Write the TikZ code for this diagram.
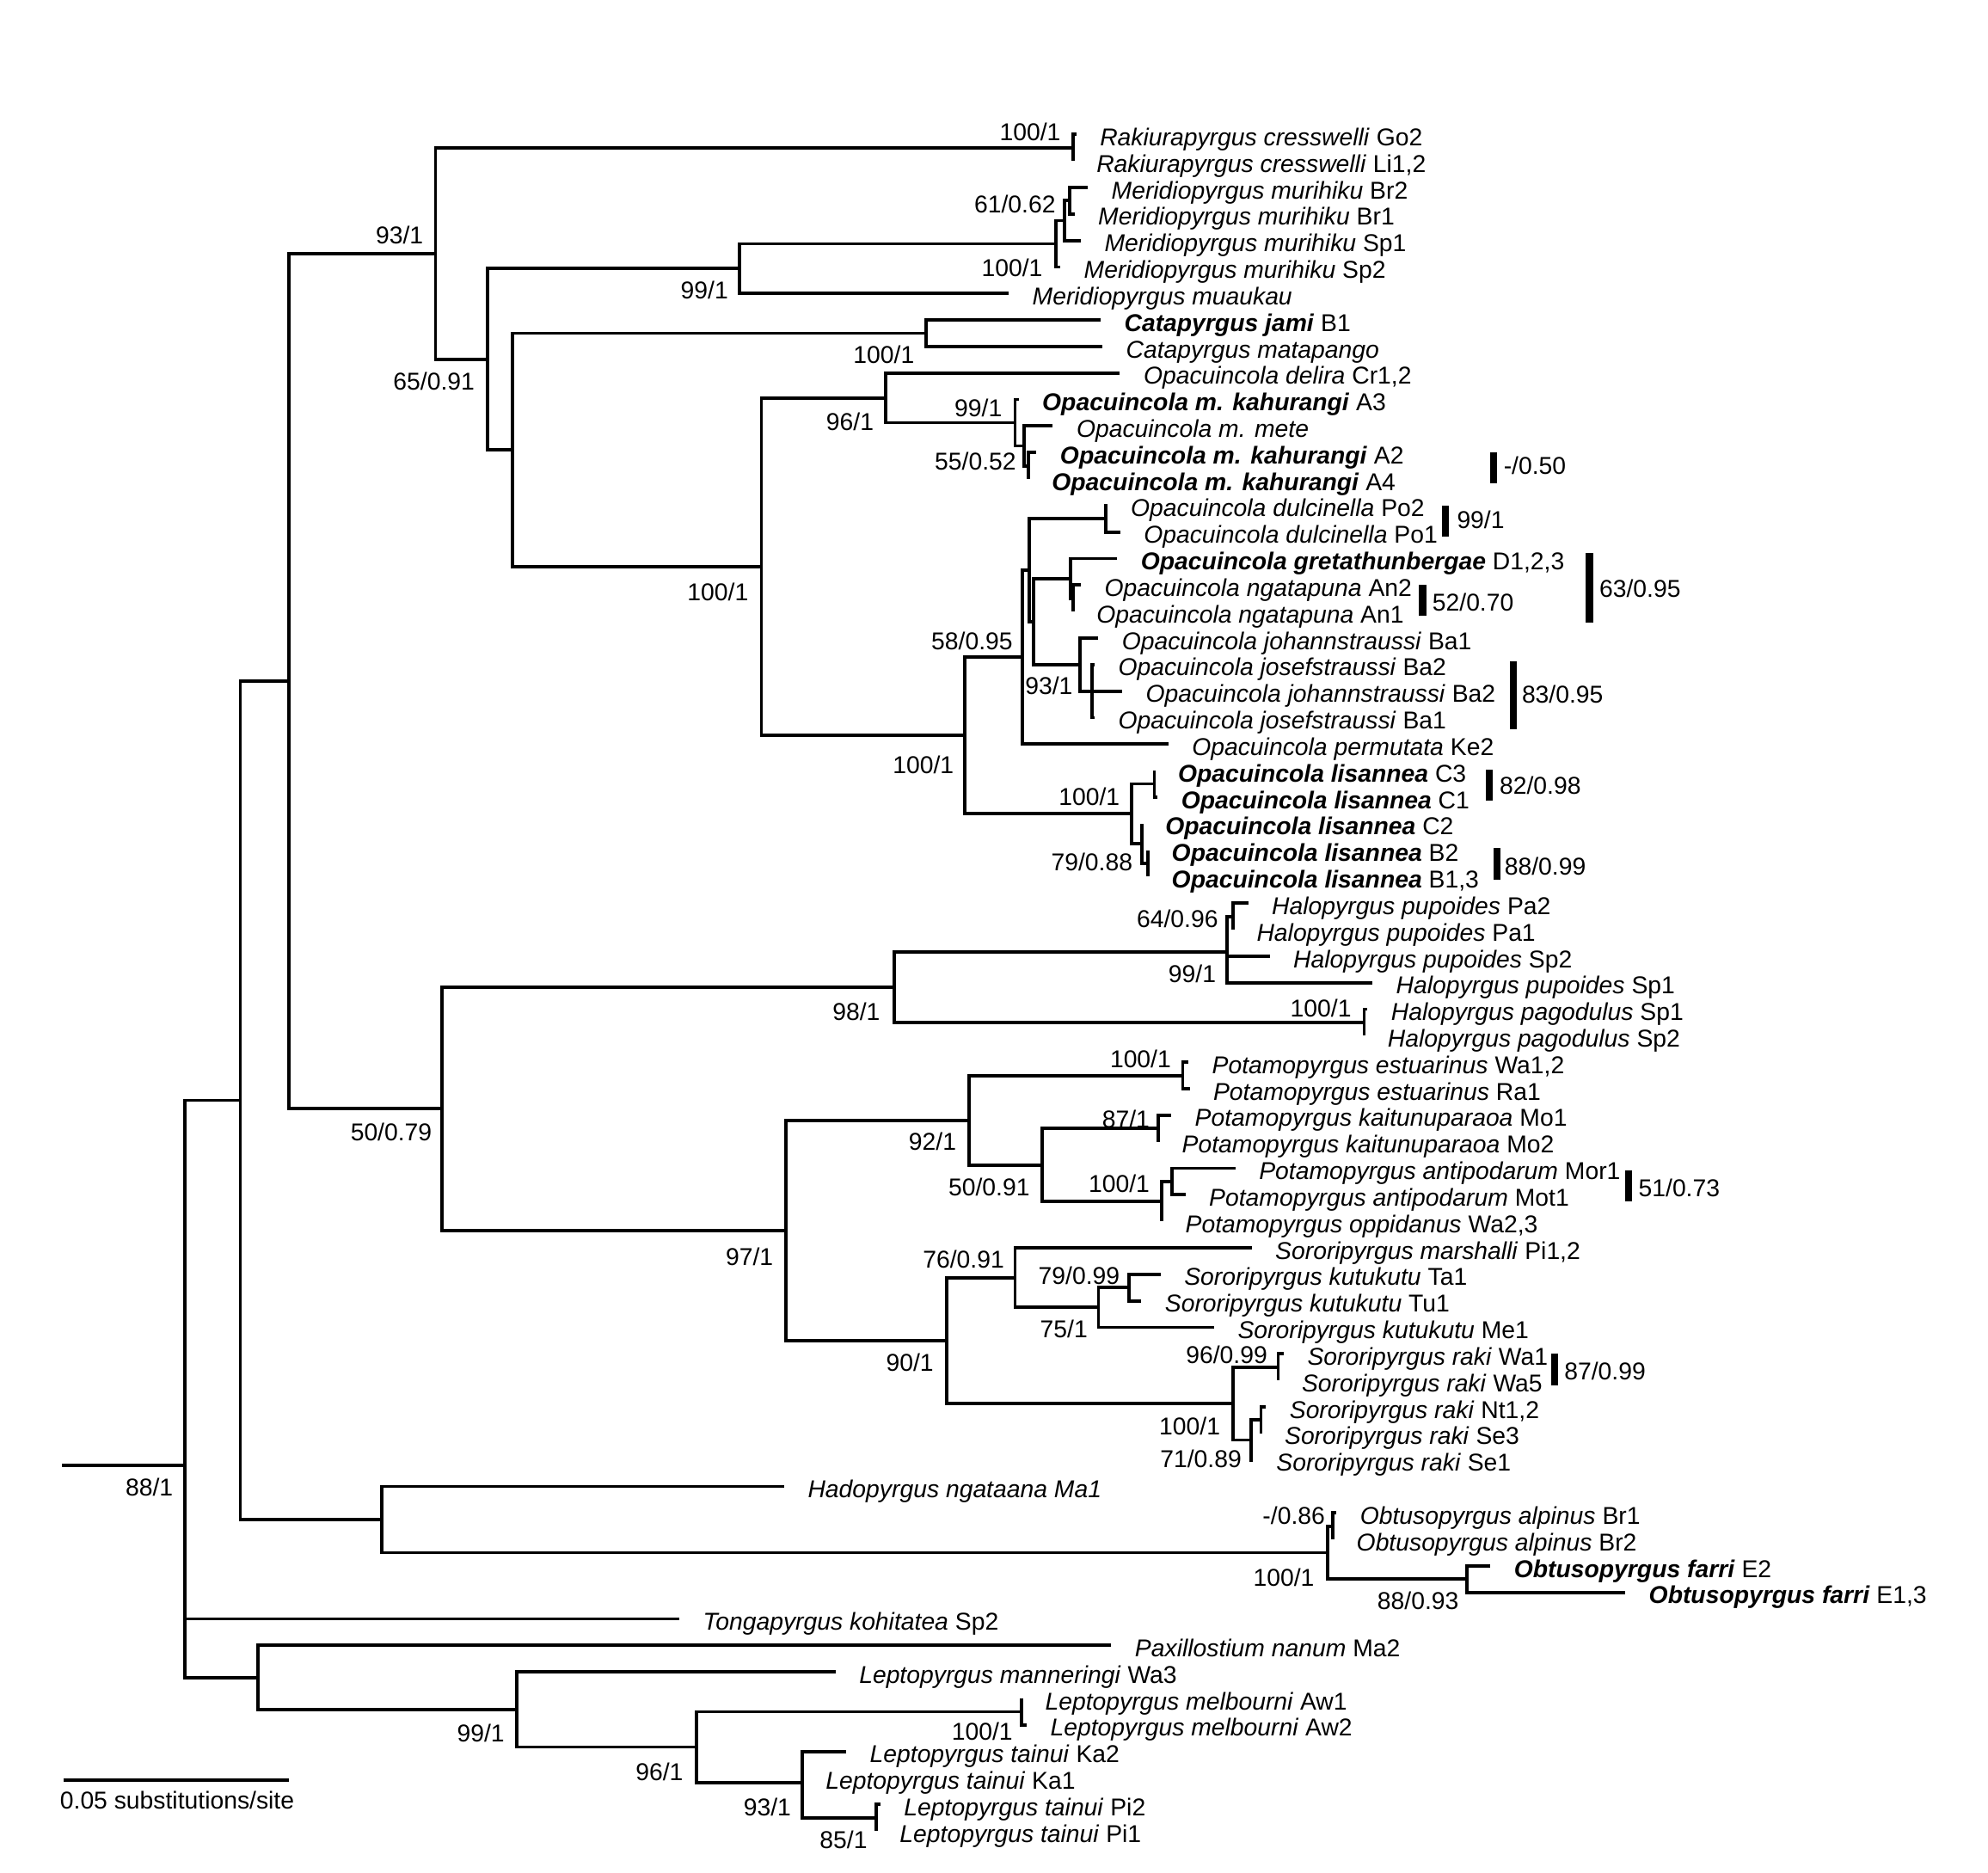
\documentclass[tikz,border=0pt]{standalone}
\usepackage{fontspec}
\setmainfont{Liberation Sans}
\newcommand{\bitx}[1]{\textbf{\textit{#1}}}
\newcommand{\leafx}[4]{\coordinate (#1) at (#2,{ty(#3)}); \node[leaflab] (#1L) at ({#2+18.5},{ty(#3)+8.9}) {#4};}
\newcommand{\inode}[3]{\coordinate (#1) at (#2,{ty(#3)});}
\newcommand{\supl}[4]{\node[supp] (#1) at (#2,{#3+6.9}) {#4};}
\newcommand{\barx}[7]{\fill[barfill] (#2,#4) rectangle (#3,#5); \node[barlab] (#1) at (#6,{#7+6.9}) {#1};}
\begin{document}
\begin{tikzpicture}[x=1pt,y=-1pt,
  declare function={ty(\k)=106+20.906*(\k-1);},
  br/.style={line width=2.6pt,line join=miter},
  leaflab/.style={anchor=base west,inner sep=0pt,font=\fontsize{19.2}{23}\selectfont},
  supp/.style={anchor=base east,inner sep=0pt,font=\fontsize{19.2}{23}\selectfont},
  barlab/.style={anchor=base west,inner sep=0pt,font=\fontsize{19.2}{23}\selectfont},
  barfill/.style={fill=black}]
\fill[white] (0,0) rectangle (1568,1477);
\useasboundingbox (0,0) rectangle (1568,1477);

% ---------- leaves ----------
\leafx{t1}{848.9}{1}{\textit{Rakiurapyrgus cresswelli} Go2}
\leafx{t2}{846.2}{2}{\textit{Rakiurapyrgus cresswelli} Li1,2}
\leafx{t3}{858}{3}{\textit{Meridiopyrgus murihiku} Br2}
\leafx{t4}{847.5}{4}{\textit{Meridiopyrgus murihiku} Br1}
\leafx{t5}{852.5}{5}{\textit{Meridiopyrgus murihiku} Sp1}
\leafx{t6}{836.3}{6}{\textit{Meridiopyrgus murihiku} Sp2}
\leafx{t7}{795.6}{7}{\textit{Meridiopyrgus muaukau}}
\leafx{t8}{868.1}{8}{\bitx{Catapyrgus jami} B1}
\leafx{t9}{869.5}{9}{\textit{Catapyrgus matapango}}
\leafx{t10}{883.3}{10}{\textit{Opacuincola delira} Cr1,2}
\leafx{t11}{803.4}{11}{\bitx{Opacuincola m. kahurangi} A3}
\leafx{t12}{830.4}{12}{\textit{Opacuincola m. mete}}
\leafx{t13}{817.5}{13}{\bitx{Opacuincola m. kahurangi} A2}
\leafx{t14}{811}{14}{\bitx{Opacuincola m. kahurangi} A4}
\leafx{t15}{873.2}{15}{\textit{Opacuincola dulcinella} Po2}
\leafx{t16}{883.5}{16}{\textit{Opacuincola dulcinella} Po1}
\leafx{t17}{881.2}{17}{\bitx{Opacuincola gretathunbergae} D1,2,3}
\leafx{t18}{852.5}{18}{\textit{Opacuincola ngatapuna} An2}
\leafx{t19}{846.2}{19}{\textit{Opacuincola ngatapuna} An1}
\leafx{t20}{866.2}{20}{\textit{Opacuincola johannstraussi} Ba1}
\leafx{t21}{863.3}{21}{\textit{Opacuincola josefstraussi} Ba2}
\leafx{t22}{885}{22}{\textit{Opacuincola johannstraussi} Ba2}
\leafx{t23}{863.3}{23}{\textit{Opacuincola josefstraussi} Ba1}
\leafx{t24}{921.5}{24}{\textit{Opacuincola permutata} Ke2}
\leafx{t25}{910.5}{25}{\bitx{Opacuincola lisannea} C3}
\leafx{t26}{913}{26}{\bitx{Opacuincola lisannea} C1}
\leafx{t27}{900.5}{27}{\bitx{Opacuincola lisannea} C2}
\leafx{t28}{905.5}{28}{\bitx{Opacuincola lisannea} B2}
\leafx{t29}{905.5}{29}{\bitx{Opacuincola lisannea} B1,3}
\leafx{t30}{984.5}{30}{\textit{Halopyrgus pupoides} Pa2}
\leafx{t31}{972.5}{31}{\textit{Halopyrgus pupoides} Pa1}
\leafx{t32}{1001.4}{32}{\textit{Halopyrgus pupoides} Sp2}
\leafx{t33}{1082.5}{33}{\textit{Halopyrgus pupoides} Sp1}
\leafx{t34}{1078.5}{34}{\textit{Halopyrgus pagodulus} Sp1}
\leafx{t35}{1075.9}{35}{\textit{Halopyrgus pagodulus} Sp2}
\leafx{t36}{937.3}{36}{\textit{Potamopyrgus estuarinus} Wa1,2}
\leafx{t37}{938.3}{37}{\textit{Potamopyrgus estuarinus} Ra1}
\leafx{t38}{923.8}{38}{\textit{Potamopyrgus kaitunuparaoa} Mo1}
\leafx{t39}{913.6}{39}{\textit{Potamopyrgus kaitunuparaoa} Mo2}
\leafx{t40}{974.4}{40}{\textit{Potamopyrgus antipodarum} Mor1}
\leafx{t41}{935}{41}{\textit{Potamopyrgus antipodarum} Mot1}
\leafx{t42}{916.3}{42}{\textit{Potamopyrgus oppidanus} Wa2,3}
\leafx{t43}{987.2}{43}{\textit{Sororipyrgus marshalli} Pi1,2}
\leafx{t44}{915.4}{44}{\textit{Sororipyrgus kutukutu} Ta1}
\leafx{t45}{900.2}{45}{\textit{Sororipyrgus kutukutu} Tu1}
\leafx{t46}{957.6}{46}{\textit{Sororipyrgus kutukutu} Me1}
\leafx{t47}{1012.5}{47}{\textit{Sororipyrgus raki} Wa1}
\leafx{t48}{1008.1}{48}{\textit{Sororipyrgus raki} Wa5}
\leafx{t49}{998.5}{49}{\textit{Sororipyrgus raki} Nt1,2}
\leafx{t50}{994.6}{50}{\textit{Sororipyrgus raki} Se3}
\leafx{t51}{988}{51}{\textit{Sororipyrgus raki} Se1}
\leafx{t52}{618.5}{52}{\textit{Hadopyrgus ngataana Ma1}}
\leafx{t53}{1054.1}{53}{\textit{Obtusopyrgus alpinus} Br1}
\leafx{t54}{1051.3}{54}{\textit{Obtusopyrgus alpinus} Br2}
\leafx{t55}{1175.5}{55}{\bitx{Obtusopyrgus farri} E2}
\leafx{t56}{1281.9}{56}{\bitx{Obtusopyrgus farri} E1,3}
\leafx{t57}{535.8}{57}{\textit{Tongapyrgus kohitatea} Sp2}
\leafx{t58}{876.5}{58}{\textit{Paxillostium nanum} Ma2}
\leafx{t59}{659}{59}{\textit{Leptopyrgus manneringi} Wa3}
\leafx{t60}{805.7}{60}{\textit{Leptopyrgus melbourni} Aw1}
\leafx{t61}{809.8}{61}{\textit{Leptopyrgus melbourni} Aw2}
\leafx{t62}{667.4}{62}{\textit{Leptopyrgus tainui} Ka2}
\leafx{t63}{632.6}{63}{\textit{Leptopyrgus tainui} Ka1}
\leafx{t64}{694.4}{64}{\textit{Leptopyrgus tainui} Pi2}
\leafx{t65}{691}{65}{\textit{Leptopyrgus tainui} Pi1}

% ---------- internal nodes ----------
\inode{nRak}{846.2}{1.5}
\inode{n61}{843.5}{3.5}
\inode{nMu2}{839.4}{4.25}
\inode{nMu1}{832.7}{5.125}
\inode{n99M}{583}{6.0625}
\inode{nCat}{730.4}{8.5}
\inode{nKahY}{811}{13.5}
\inode{nKahX}{808}{12.75}
\inode{n99K}{800.6}{11.875}
\inode{n96}{698.7}{10.9375}
\inode{nDul}{872.1}{15.5}
\inode{nNga}{846.2}{18.5}
\inode{nGre}{844.5}{17.75}
\inode{nW}{861.3}{22}
\inode{n93J}{851.9}{21}
\inode{nB}{815.1}{19.375}
\inode{nA}{811.7}{17.4375}
\inode{n58}{806.3}{20.71875}
\inode{nM}{910.5}{25.5}
\inode{nO}{905.5}{28.5}
\inode{nN}{900.5}{27.75}
\inode{nL}{892.7}{26.625}
\inode{n100b}{760.8}{23.671875}
\inode{n100a}{600.5}{17.3046875}
\inode{nCO}{404.2}{12.90234}
\inode{n65}{384.6}{9.48242}
\inode{n93}{343.5}{5.49121}
\inode{n64}{972.5}{30.5}
\inode{n99H}{967.6}{31.8333}
\inode{nPag}{1075.9}{34.5}
\inode{n98}{705.1}{33.1667}
\inode{nEst}{932.9}{36.5}
\inode{n87}{913.6}{38.5}
\inode{nAnt2}{924.4}{40.5}
\inode{nAnt}{916.3}{41.25}
\inode{n5091}{821.9}{39.875}
\inode{n92}{764.2}{38.1875}
\inode{n7999}{890.7}{44.5}
\inode{n75}{866.4}{45.25}
\inode{n7691}{800.6}{44.125}
\inode{n9699}{1008.1}{47.5}
\inode{nP}{994.6}{49.5}
\inode{n7189}{986.5}{50.25}
\inode{n100r}{972.7}{48.875}
\inode{n90}{746.6}{46.5}
\inode{n97}{620.1}{42.34375}
\inode{n5079}{348.5}{37.7552}
\inode{n50par}{227.7}{21.6232}
\inode{nAlp}{1051.3}{53.5}
\inode{nFar}{1157.2}{55.5}
\inode{n100O}{1046.9}{54.5}
\inode{nHO}{301.3}{53.25}
\inode{nBig}{189.6}{37.4366}
\inode{nMel}{805.7}{60.5}
\inode{n85}{691}{64.5}
\inode{n93T}{632.6}{63.1667}
\inode{n96L}{549.2}{61.8333}
\inode{n99L}{407.6}{60.4167}
\inode{nPax}{203.5}{59.2083}
\inode{nRoot}{145.8}{51.215}
\inode{stem}{48.9}{51.215}

% ---------- branches ----------
\draw[br] (stem) -- (nRoot);
\foreach \p/\c in {nRoot/nBig,nRoot/t57,nRoot/nPax,
  nBig/n50par,nBig/nHO,
  n50par/n93,n50par/n5079,
  n93/nRak,n93/n65,
  nRak/t1,nRak/t2,
  n65/n99M,n65/nCO,
  n99M/nMu1,n99M/t7,
  nMu1/nMu2,nMu1/t6,
  nMu2/n61,nMu2/t5,
  n61/t3,n61/t4,
  nCO/nCat,nCO/n100a,
  nCat/t8,nCat/t9,
  n100a/n96,n100a/n100b,
  n96/t10,n96/n99K,
  n99K/t11,n99K/nKahX,
  nKahX/t12,nKahX/nKahY,
  nKahY/t13,nKahY/t14,
  n100b/n58,n100b/nL,
  n58/nA,n58/t24,
  nA/nDul,nA/nB,
  nDul/t15,nDul/t16,
  nB/nGre,nB/n93J,
  nGre/t17,nGre/nNga,
  nNga/t18,nNga/t19,
  n93J/t20,n93J/nW,
  nW/t21,nW/t22,nW/t23,
  nL/nM,nL/nN,
  nM/t25,nM/t26,
  nN/t27,nN/nO,
  nO/t28,nO/t29,
  n5079/n98,n5079/n97,
  n98/n99H,n98/nPag,
  n99H/n64,n99H/t32,n99H/t33,
  n64/t30,n64/t31,
  nPag/t34,nPag/t35,
  n97/n92,n97/n90,
  n92/nEst,n92/n5091,
  nEst/t36,nEst/t37,
  n5091/n87,n5091/nAnt,
  n87/t38,n87/t39,
  nAnt/nAnt2,nAnt/t42,
  nAnt2/t40,nAnt2/t41,
  n90/n7691,n90/n100r,
  n7691/t43,n7691/n75,
  n75/n7999,n75/t46,
  n7999/t44,n7999/t45,
  n100r/n9699,n100r/n7189,
  n9699/t47,n9699/t48,
  n7189/nP,n7189/t51,
  nP/t49,nP/t50,
  nHO/t52,nHO/n100O,
  n100O/nAlp,n100O/nFar,
  nAlp/t53,nAlp/t54,
  nFar/t55,nFar/t56,
  nPax/t58,nPax/n99L,
  n99L/t59,n99L/n96L,
  n96L/nMel,n96L/n93T,
  nMel/t60,nMel/t61,
  n93T/t62,n93T/t63,n93T/n85,
  n85/t64,n85/t65}
  {\draw[br] (\p) |- (\c);}

% ---------- support values ----------
\supl{s1}{836.7}{103.8}{100/1}
\supl{s2}{832.7}{161}{61/0.62}
\supl{s3}{822.5}{211}{100/1}
\supl{s4}{574.5}{228.5}{99/1}
\supl{s5}{334}{185.6}{93/1}
\supl{s6}{374.5}{300.5}{65/0.91}
\supl{s7}{721.3}{279.5}{100/1}
\supl{s8}{689.3}{332.5}{96/1}
\supl{s9}{790.5}{321.5}{99/1}
\supl{s10}{801.6}{363.6}{55/0.52}
\supl{s11}{590.4}{466.8}{100/1}
\supl{s12}{798.9}{505.7}{58/0.95}
\supl{s13}{846.2}{541}{93/1}
\supl{s14}{752.4}{603}{100/1}
\supl{s15}{883.3}{628.3}{100/1}
\supl{s16}{893.4}{680}{79/0.88}
\supl{s17}{960.9}{724.3}{64/0.96}
\supl{s18}{959.2}{768}{99/1}
\supl{s19}{694.3}{797.5}{98/1}
\supl{s20}{1066}{795}{100/1}
\supl{s21}{340.8}{893}{50/0.79}
\supl{s22}{923.8}{835.3}{100/1}
\supl{s23}{754.4}{900}{92/1}
\supl{s24}{906.9}{882.5}{87/1}
\supl{s25}{812.4}{936}{50/0.91}
\supl{s26}{906.9}{933.7}{100/1}
\supl{s27}{610}{990.8}{97/1}
\supl{s28}{792.2}{993}{76/0.91}
\supl{s29}{883.3}{1006}{79/0.99}
\supl{s30}{858}{1048}{75/1}
\supl{s31}{736.5}{1074.5}{90/1}
\supl{s32}{999.7}{1068.5}{96/0.99}
\supl{s33}{962.6}{1124.5}{100/1}
\supl{s34}{979.4}{1150.5}{71/0.89}
\supl{s35}{136.6}{1172.8}{88/1}
\supl{s36}{1045.2}{1195}{-/0.86}
\supl{s37}{1036.8}{1243.8}{100/1}
\supl{s38}{1150.7}{1262.6}{88/0.93}
\supl{s39}{398.1}{1366.5}{99/1}
\supl{s40}{798.9}{1365.5}{100/1}
\supl{s41}{539}{1397}{96/1}
\supl{s42}{624.1}{1425.3}{93/1}
\supl{s43}{684.2}{1451}{85/1}

% ---------- alternative-topology bars ----------
\barx{-/0.50}{1175.1}{1181}{356.5}{381.3}{1185.8}{367}
\barx{99/1}{1137}{1143}{399}{423}{1149}{409.6}
\barx{52/0.70}{1119.2}{1124.8}{461}{485.8}{1129.6}{474.9}
\barx{63/0.95}{1250.9}{1256.5}{436.3}{491}{1261.3}{463.9}
\barx{83/0.95}{1190.7}{1196.3}{521.2}{575.4}{1200.2}{547.6}
\barx{82/0.98}{1171.9}{1177.5}{607.2}{631.7}{1182.6}{619.5}
\barx{88/0.99}{1177.7}{1183.3}{669}{693.7}{1186.5}{683}
\barx{51/0.73}{1281.8}{1287.4}{923}{947.3}{1292.2}{936.6}
\barx{87/0.99}{1223.3}{1228.9}{1067.5}{1092.3}{1233.7}{1081}

% ---------- scale bar ----------
\coordinate (sb1) at (49.9,1403.6);
\coordinate (sb2) at (227.7,1403.6);
\draw[br] (sb1) -- (sb2);
\node[leaflab] (sbl) at (47.2,1426.9) {0.05 substitutions/site};
\end{tikzpicture}
\end{document}
